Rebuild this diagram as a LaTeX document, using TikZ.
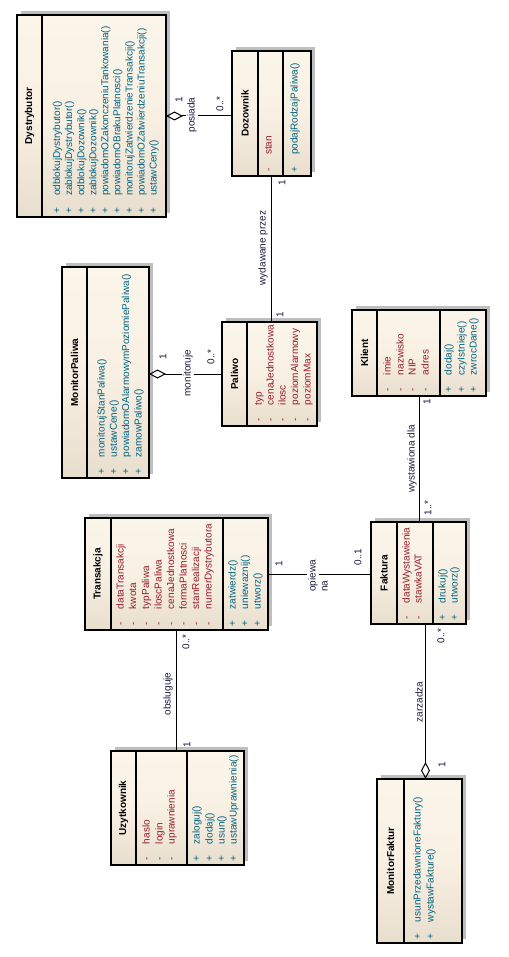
\documentclass[tikz,border=0pt]{standalone}
\usepackage{fontspec}
\setmainfont{Liberation Sans}
\usetikzlibrary{shadows,arrows.meta}
\definecolor{attrc}{RGB}{150,28,40}
\definecolor{opc}{RGB}{0,98,128}
\definecolor{lblc}{RGB}{25,25,60}
\definecolor{boxtop}{RGB}{251,245,234}
\definecolor{boxmid}{RGB}{248,240,227}
\definecolor{boxbot}{RGB}{232,222,206}
\definecolor{shadowc}{RGB}{190,190,190}
\newcommand\umlmember[6]{%
  \node[#4] (#1) at ([xshift=#3pt,yshift=21pt]#2.south west) {#6};
  \node[#4, anchor=center] (#1-v) at ([xshift=#3pt,yshift=6.5pt]#2.south west) {#5};
}
\newcommand\umldiv[2]{%
  \draw[line width=1.1pt] ([xshift=#2pt]#1.north west) -- ([xshift=#2pt]#1.south west);
}
\tikzset{
  classbox/.style={draw=black, line width=1.2pt, rectangle, inner sep=0pt, outer sep=0pt,
    anchor=north west, top color=boxtop, bottom color=boxbot, middle color=boxmid,
    general shadow={fill=shadowc, shadow xshift=4pt, shadow yshift=4pt}},
  mtext/.style={rotate=90, anchor=west, inner sep=0pt, outer sep=0pt,
    font=\fontsize{10}{12}\selectfont, text height=7pt, text depth=2pt},
  attr/.style={mtext, text=attrc},
  oper/.style={mtext, text=opc},
  cname/.style={rotate=90, inner sep=0pt, font=\bfseries\fontsize{10}{12}\selectfont},
  lbl/.style={rotate=90, inner sep=1pt, font=\fontsize{10}{12}\selectfont, text=lblc, fill=white},
  mult/.style={rotate=90, inner sep=0.5pt, font=\fontsize{10}{12}\selectfont, text=lblc},
  conn/.style={draw=black, line width=1pt},
  aggstart/.style={conn, {Diamond[open,length=17pt,width=9pt]}-},
  aggend/.style={conn, -{Diamond[open,length=17pt,width=9pt]}},
}
\begin{document}
\begin{tikzpicture}[x=1pt, y=-1pt]
\useasboundingbox[fill=white] (0,0) rectangle (508,957);

% ---------- Dystrybutor ----------
\node[classbox, minimum width=149pt, minimum height=202pt] (dyst) at (17,15) {};
\umldiv{dyst}{25}
\node[cname] (dyst-n) at ([xshift=12.5pt]dyst.west) {Dystrybutor};
\umlmember{dyst-o1}{dyst}{40.7}{oper}{+}{odblokujDystrybutor()}
\umlmember{dyst-o2}{dyst}{52.7}{oper}{+}{zablokujDystrybutor()}
\umlmember{dyst-o3}{dyst}{64.8}{oper}{+}{odblokujDozownik()}
\umlmember{dyst-o4}{dyst}{76.8}{oper}{+}{zablokujDozownik()}
\umlmember{dyst-o5}{dyst}{88.9}{oper}{+}{powiadomOZakonczeniuTankowania()}
\umlmember{dyst-o6}{dyst}{100.9}{oper}{+}{powiadomOBrakuPlatnosci()}
\umlmember{dyst-o7}{dyst}{113}{oper}{+}{monitorujZatwierdzenieTransakcji()}
\umlmember{dyst-o8}{dyst}{125}{oper}{+}{powiadomOZatwierdzeniuTransakcji()}
\umlmember{dyst-o9}{dyst}{137}{oper}{+}{ustawCeny()}

% ---------- Dozownik ----------
\node[classbox, minimum width=79pt, minimum height=125pt] (dozo) at (232,51) {};
\umldiv{dozo}{26}
\umldiv{dozo}{51}
\node[cname] (dozo-n) at ([xshift=13pt]dozo.west) {Dozownik};
\umlmember{dozo-a1}{dozo}{37}{attr}{-}{stan}
\umlmember{dozo-o1}{dozo}{63}{oper}{+}{podajRodzajPaliwa()}

% ---------- MonitorPaliwa ----------
\node[classbox, minimum width=87pt, minimum height=211pt] (monp) at (62,267) {};
\umldiv{monp}{25}
\node[cname] (monp-n) at ([xshift=12.5pt]monp.west) {MonitorPaliwa};
\umlmember{monp-o1}{monp}{40}{oper}{+}{monitorujStanPaliwa()}
\umlmember{monp-o2}{monp}{52.3}{oper}{+}{ustawCene()}
\umlmember{monp-o3}{monp}{64.7}{oper}{+}{powiadomOAlarmowymPoziomiePaliwa()}
\umlmember{monp-o4}{monp}{77}{oper}{+}{zamowPaliwo()}

% ---------- Paliwo ----------
\node[classbox, minimum width=95pt, minimum height=104pt] (pali) at (222,322) {};
\umldiv{pali}{25}
\node[cname] (pali-n) at ([xshift=12.5pt]pali.west) {Paliwo};
\umlmember{pali-a1}{pali}{37}{attr}{-}{typ}
\umlmember{pali-a2}{pali}{49}{attr}{-}{cenaJednostkowa}
\umlmember{pali-a3}{pali}{61}{attr}{-}{ilosc}
\umlmember{pali-a4}{pali}{73.5}{attr}{-}{poziomAlarmowy}
\umlmember{pali-a5}{pali}{86}{attr}{-}{poziomMax}

% ---------- Klient ----------
\node[classbox, minimum width=134pt, minimum height=86pt] (klie) at (352,310) {};
\umldiv{klie}{25}
\umldiv{klie}{88}
\node[cname] (klie-n) at ([xshift=12.5pt]klie.west) {Klient};
\umlmember{klie-a1}{klie}{36}{attr}{-}{imie}
\umlmember{klie-a2}{klie}{49}{attr}{-}{nazwisko}
\umlmember{klie-a3}{klie}{61}{attr}{-}{NIP}
\umlmember{klie-a4}{klie}{74}{attr}{-}{adres}
\umlmember{klie-o1}{klie}{97}{oper}{+}{dodaj()}
\umlmember{klie-o2}{klie}{110}{oper}{+}{czyIstnieje()}
\umlmember{klie-o3}{klie}{122}{oper}{+}{zwrocDane()}

% ---------- Transakcja ----------
\node[classbox, minimum width=183pt, minimum height=112pt] (tran) at (85,518) {};
\umldiv{tran}{26}
\umldiv{tran}{138}
\node[cname] (tran-n) at ([xshift=13pt]tran.west) {Transakcja};
\umlmember{tran-a1}{tran}{36}{attr}{-}{dataTransakcji}
\umlmember{tran-a2}{tran}{48.5}{attr}{-}{kwota}
\umlmember{tran-a3}{tran}{61.5}{attr}{-}{typPaliwa}
\umlmember{tran-a4}{tran}{74}{attr}{-}{iloscPaliwa}
\umlmember{tran-a5}{tran}{86.5}{attr}{-}{cenaJednostkowa}
\umlmember{tran-a6}{tran}{99}{attr}{-}{formaPlatnosci}
\umlmember{tran-a7}{tran}{111.5}{attr}{-}{stanRealizacji}
\umlmember{tran-a8}{tran}{124}{attr}{-}{numerDystrybutora}
\umlmember{tran-o1}{tran}{148}{oper}{+}{zatwierdz()}
\umlmember{tran-o2}{tran}{160.5}{oper}{+}{uniewaznij()}
\umlmember{tran-o3}{tran}{173}{oper}{+}{utworz()}

% ---------- Faktura ----------
\node[classbox, minimum width=95pt, minimum height=102pt] (fakt) at (371,522) {};
\umldiv{fakt}{26}
\umldiv{fakt}{62}
\node[cname] (fakt-n) at ([xshift=13pt]fakt.west) {Faktura};
\umlmember{fakt-a1}{fakt}{36}{attr}{-}{dataWystawienia}
\umlmember{fakt-a2}{fakt}{48}{attr}{-}{stawkaVAT}
\umlmember{fakt-o1}{fakt}{72}{oper}{+}{drukuj()}
\umlmember{fakt-o2}{fakt}{84}{oper}{+}{utworz()}

% ---------- Uzytkownik ----------
\node[classbox, minimum width=133pt, minimum height=114pt] (uzyt) at (111,751) {};
\umldiv{uzyt}{25}
\umldiv{uzyt}{76}
\node[cname] (uzyt-n) at ([xshift=12.5pt]uzyt.west) {Uzytkownik};
\umlmember{uzyt-a1}{uzyt}{36}{attr}{-}{haslo}
\umlmember{uzyt-a2}{uzyt}{49}{attr}{-}{login}
\umlmember{uzyt-a3}{uzyt}{61}{attr}{-}{uprawnienia}
\umlmember{uzyt-o1}{uzyt}{86}{oper}{+}{zaloguj()}
\umlmember{uzyt-o2}{uzyt}{99}{oper}{+}{dodaj()}
\umlmember{uzyt-o3}{uzyt}{111}{oper}{+}{usun()}
\umlmember{uzyt-o4}{uzyt}{123}{oper}{+}{ustawUprawnienia()}

% ---------- MonitorFaktur ----------
\node[classbox, minimum width=85pt, minimum height=164pt] (monf) at (377,779) {};
\umldiv{monf}{27}
\node[cname] (monf-n) at ([xshift=13.5pt]monf.west) {MonitorFaktur};
\umlmember{monf-o1}{monf}{41}{oper}{+}{usunPrzedawnioneFaktury()}
\umlmember{monf-o2}{monf}{54}{oper}{+}{wystawFakture()}

% ---------- connectors ----------
\draw[aggstart] (dyst.east) -- (dyst.east -| dozo.west);
\draw[conn] (dozo.south) -- (dozo.south |- pali.north);
\draw[aggstart] (monp.east |- pali.west) -- (pali.west);
\draw[conn] (klie.south) -- (klie.south |- fakt.north);
\draw[conn] (tran.east) -- (tran.east -| fakt.west);
\draw[conn] (tran.south) -- (tran.south |- uzyt.north);
\draw[aggend] ([xshift=7pt]fakt.south) -- ([xshift=7pt]fakt.south |- monf.north);

% ---------- association labels ----------
\node[lbl] (l-posiada) at (192,115) {posiada};
\node[lbl] (l-monit) at (188,373) {monitoruje};
\node[lbl] (l-wyd) at (263,248) {wydawane przez};
\node[lbl] (l-wyst) at (412,459) {wystawiona dla};
\node[lbl] (l-obs) at (168,694) {obsluguje};
\node[lbl] (l-zarz) at (419,702) {zarzadza};
\node[lbl] (l-opiewa) at (313,576) {opiewa};
\node[lbl, fill=none] (l-na) at (325,586) {na};

% ---------- multiplicities ----------
\node[mult] (m1) at (179,100) {1};
\node[mult] (m2) at (220,104) {0..*};
\node[mult] (m3) at (282,183) {1};
\node[mult] (m4) at (280,315) {1};
\node[mult] (m5) at (163,357) {1};
\node[mult] (m6) at (211,357) {0..*};
\node[mult] (m7) at (427,402) {1};
\node[mult] (m8) at (428,508) {1..*};
\node[mult] (m9) at (279,564) {1};
\node[mult] (m10) at (358,557) {0..1};
\node[mult] (m11) at (186,642) {0..*};
\node[mult] (m12) at (187,745) {1};
\node[mult] (m13) at (441,636) {0..*};
\node[mult] (m14) at (442,765) {1};
\end{tikzpicture}
\end{document}
